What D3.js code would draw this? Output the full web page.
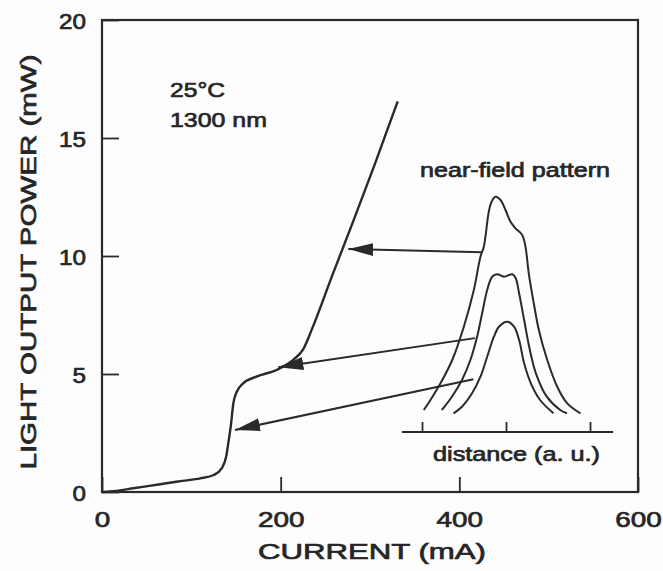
<!DOCTYPE html>
<html>
<head>
<meta charset="utf-8">
<script src="https://cdn.jsdelivr.net/npm/d3@7"></script>
<style>
  body { margin: 0; background: #fdfdfd; }
  text { font-family: "Liberation Sans", Arial, sans-serif; fill: #262626; stroke: #262626; stroke-width: 0.7px; }
</style>
</head>
<body>
<div id="chart"></div>
<script>
// L-I curve, current in mA, power in mW
var current = [0, 20, 35, 55, 72, 90, 110, 125, 134, 139, 141.5, 144.5, 147, 151, 158, 173, 196, 214, 225, 235, 258, 280, 305, 331]
var power = [0, 0.07, 0.16, 0.27, 0.37, 0.47, 0.58, 0.72, 1.0, 1.5, 2.1, 2.9, 3.75, 4.26, 4.6, 4.89, 5.18, 5.6, 6.03, 6.9, 9.2, 11.35, 13.85, 16.55]

var xTicks = [0, 200, 400, 600]
var yTicks = [0, 5, 10, 15, 20]

// near-field patterns, distance and intensity in arbitrary units
var highDist = [-0.985, -0.905, -0.786, -0.646, -0.508, -0.389, -0.31, -0.27, -0.211, -0.179, -0.131, -0.071, -0.012, 0.048, 0.107, 0.187, 0.226, 0.265, 0.325, 0.385, 0.485, 0.604, 0.723, 0.881]
var highInt = [2.2, 3.2, 4.87, 7.2, 10.53, 14.2, 17.53, 18.53, 22.03, 23.0, 23.53, 23.2, 22.2, 21.03, 20.37, 19.7, 18.53, 15.87, 12.87, 10.2, 7.2, 4.53, 2.87, 1.87]
var midDist = [-0.77, -0.65, -0.53, -0.43, -0.35, -0.29, -0.23, -0.17, -0.11, -0.03, 0.07, 0.11, 0.15, 0.21, 0.27, 0.35, 0.48, 0.64, 0.72]
var midInt = [2.2, 3.53, 5.2, 7.2, 9.53, 11.87, 14.2, 15.53, 15.77, 15.53, 15.77, 15.37, 13.87, 11.2, 8.53, 5.87, 3.53, 2.2, 1.87]
var lowDist = [-0.63, -0.53, -0.41, -0.31, -0.23, -0.15, -0.09, 0.01, 0.09, 0.15, 0.21, 0.29, 0.40, 0.56]
var lowInt = [1.87, 2.53, 3.87, 5.53, 7.53, 9.53, 10.53, 11.03, 10.53, 9.2, 6.87, 4.87, 3.2, 1.87]
var nfTicks = [-1, 0, 1]

// arrows from the patterns back to the curve (mA, mW)
var arrowFrom = [[425.1, 10.16], [417.6, 6.52], [415.7, 4.78]]
var arrowTo = [[275.7, 10.30], [197.4, 5.29], [148.9, 2.63]]

var svgWidth = 663
var svgHeight = 571
var margin = {top: 20, right: 25, bottom: 79, left: 102}
var width = svgWidth - margin.left - margin.right
var height = svgHeight - margin.top - margin.bottom
var ink = "#2a2a2a"

var svg = d3.select("#chart").append("svg")
  .attr("width", svgWidth)
  .attr("height", svgHeight)

var main = svg.append("g")
  .attr("transform", "translate(" + margin.left + "," + margin.top + ")")

var x = d3.scaleLinear().domain([0, 600]).range([0, width])
var y = d3.scaleLinear().domain([0, 20]).range([height, 0])

// frame
main.append("rect")
  .attr("width", width)
  .attr("height", height)
  .attr("fill", "none")
  .attr("stroke", ink)
  .attr("stroke-width", 2.2)

// axes with inward ticks
var xAxis = d3.axisBottom(x).tickValues(xTicks).tickSizeInner(-15).tickSizeOuter(0).tickPadding(19)
var gx = main.append("g")
  .attr("transform", "translate(0," + height + ")")
  .call(xAxis)
gx.select(".domain").remove()
gx.selectAll("line").attr("stroke", ink).attr("stroke-width", 1.8)
gx.selectAll("text")
  .style("font-size", "22px")
  .attr("textLength", function(d) { return String(d).length * 15.5 })
  .attr("lengthAdjust", "spacingAndGlyphs")

var yAxis = d3.axisLeft(y).tickValues(yTicks).tickSizeInner(-17).tickSizeOuter(0).tickPadding(16)
var gy = main.append("g").call(yAxis)
gy.select(".domain").remove()
gy.selectAll("line").attr("stroke", ink).attr("stroke-width", 1.8)
gy.selectAll("text")
  .style("font-size", "22px")
  .attr("dy", "0.4em")
  .attr("textLength", function(d) { return String(d).length * 13.5 })
  .attr("lengthAdjust", "spacingAndGlyphs")

// axis titles
svg.append("text")
  .attr("x", 372).attr("y", 559)
  .attr("text-anchor", "middle")
  .style("font-size", "22px")
  .attr("textLength", 228).attr("lengthAdjust", "spacingAndGlyphs")
  .text("CURRENT  (mA)")

svg.append("text")
  .attr("transform", "translate(36,262) rotate(-90)")
  .attr("text-anchor", "middle")
  .style("font-size", "22px")
  .attr("textLength", 415).attr("lengthAdjust", "spacingAndGlyphs")
  .text("LIGHT OUTPUT POWER  (mW)")

// L-I curve
var liData = current.map(function(c, i) { return [c, power[i]] })
var line = d3.line()
  .x(function(d) { return x(d[0]) })
  .y(function(d) { return y(d[1]) })
  .curve(d3.curveMonotoneX)

main.append("path")
  .datum(liData)
  .attr("d", line)
  .attr("fill", "none")
  .attr("stroke", ink)
  .attr("stroke-width", 2.4)

// annotations
svg.append("text").attr("x", 170).attr("y", 97)
  .style("font-size", "21px")
  .attr("textLength", 55).attr("lengthAdjust", "spacingAndGlyphs")
  .text("25°C")
svg.append("text").attr("x", 170).attr("y", 127)
  .style("font-size", "21px")
  .attr("textLength", 97).attr("lengthAdjust", "spacingAndGlyphs")
  .text("1300 nm")

// near-field inset
var nx = d3.scaleLinear().domain([-1, 1]).range([422.5, 590.5])
var ny = d3.scaleLinear().domain([0, 25]).range([432, 182])
var inset = svg.append("g")

inset.append("line")
  .attr("x1", nx(-1.245)).attr("x2", nx(1.27))
  .attr("y1", ny(0)).attr("y2", ny(0))
  .attr("stroke", ink).attr("stroke-width", 2)
inset.selectAll(".nftick")
  .data(nfTicks)
  .enter().append("line")
  .attr("class", "nftick")
  .attr("x1", function(d) { return nx(d) }).attr("x2", function(d) { return nx(d) })
  .attr("y1", ny(0)).attr("y2", ny(0) - 10)
  .attr("stroke", ink).attr("stroke-width", 1.8)

var nfLine = d3.line()
  .x(function(d) { return nx(d[0]) })
  .y(function(d) { return ny(d[1]) })
  .curve(d3.curveCatmullRom)

var patterns = [[highDist, highInt], [midDist, midInt], [lowDist, lowInt]]
inset.selectAll(".nf")
  .data(patterns)
  .enter().append("path")
  .attr("class", "nf")
  .attr("d", function(p) { return nfLine(p[0].map(function(d, i) { return [d, p[1][i]] })) })
  .attr("fill", "none")
  .attr("stroke", ink)
  .attr("stroke-width", 2)

svg.append("text").attr("x", 420).attr("y", 177)
  .style("font-size", "20px")
  .attr("textLength", 190).attr("lengthAdjust", "spacingAndGlyphs")
  .text("near-field pattern")
svg.append("text").attr("x", 433).attr("y", 461)
  .style("font-size", "20px")
  .attr("textLength", 167).attr("lengthAdjust", "spacingAndGlyphs")
  .text("distance (a. u.)")

// arrows
svg.append("defs").append("marker")
  .attr("id", "head")
  .attr("markerUnits", "userSpaceOnUse")
  .attr("viewBox", "0 0 25 13")
  .attr("refX", 25).attr("refY", 6.5)
  .attr("markerWidth", 25).attr("markerHeight", 13)
  .attr("orient", "auto")
  .append("path")
  .attr("d", "M0,0 L25,6.5 L0,13 Z")
  .attr("fill", ink)

main.selectAll(".arrow")
  .data(arrowFrom)
  .enter().append("line")
  .attr("class", "arrow")
  .attr("x1", function(d) { return x(d[0]) })
  .attr("y1", function(d) { return y(d[1]) })
  .attr("x2", function(d, i) { return x(arrowTo[i][0]) })
  .attr("y2", function(d, i) { return y(arrowTo[i][1]) })
  .attr("stroke", ink)
  .attr("stroke-width", 2)
  .attr("marker-end", "url(#head)")
</script>
</body>
</html>
